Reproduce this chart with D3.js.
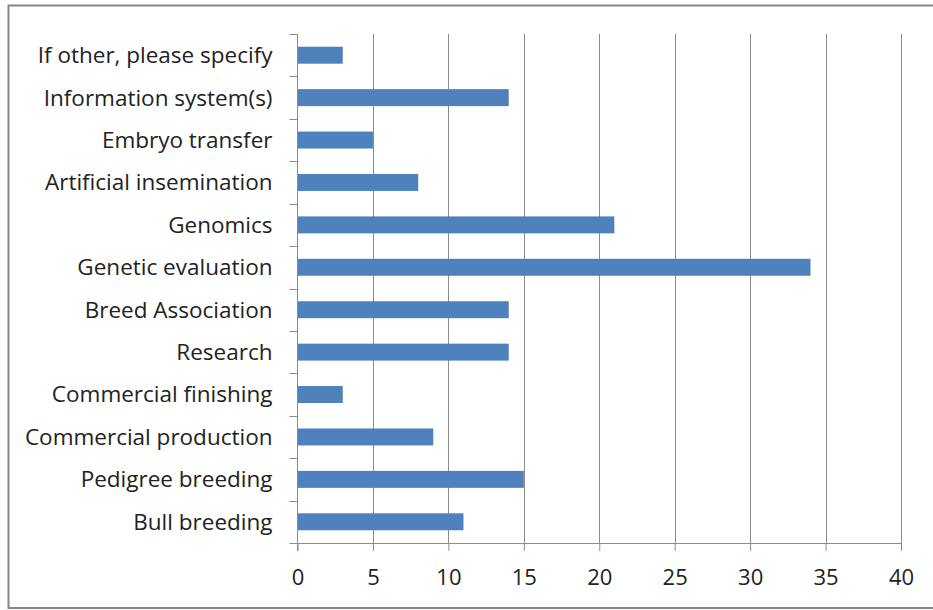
<!DOCTYPE html>
<html><head><meta charset="utf-8">
<script src="https://cdn.jsdelivr.net/npm/d3@7"></script>
<style>body{margin:0;background:#fff}svg{display:block}</style>
</head><body>
<script>
const categories = ["If other, please specify","Information system(s)","Embryo transfer","Artificial insemination","Genomics","Genetic evaluation","Breed Association","Research","Commercial finishing","Commercial production","Pedigree breeding","Bull breeding"];
const values = [3,14,5,8,21,34,14,14,3,9,15,11];
const xTicks = [0,5,10,15,20,25,30,35,40];

(function(){
const W=933,H=610;
const svg=d3.select("body").append("svg").attr("width",W).attr("height",H);
svg.append("rect").attr("x",8.5).attr("y",5.5).attr("width",940).attr("height",602.5).attr("fill","#fff").attr("stroke","#868686").attr("stroke-width",2);

const pL=297.5,pR=901,pT=34,pB=543;
const x=d3.scaleLinear().domain([0,40]).range([pL,pR]);
const y=d3.scaleBand().domain(categories).range([pT,pB]).paddingInner(0.6).paddingOuter(0.3);
const font="'Open Sans', 'Liberation Sans', sans-serif";

svg.append("g").selectAll("line").data(xTicks.slice(1)).join("line")
  .attr("x1",d=>Math.round(x(d))+0.5).attr("x2",d=>Math.round(x(d))+0.5)
  .attr("y1",pT).attr("y2",pB).attr("stroke","#8c8c8c").attr("stroke-width",1);

svg.append("g").selectAll("rect").data(values).join("rect")
  .attr("x",x(0)).attr("y",(d,i)=>y(categories[i])).attr("height",y.bandwidth())
  .attr("width",d=>x(d)-x(0)).attr("fill","#4F81BD");

const xa=svg.append("g").attr("transform",`translate(0,${pB})`)
  .call(d3.axisBottom(x).tickValues(xTicks).tickSize(8).tickPadding(18));
xa.select(".domain").attr("stroke","#8c8c8c").attr("d",`M${pL},0.5H${pR}`);
xa.selectAll(".tick line").attr("stroke","#8c8c8c");
xa.selectAll("text").attr("font-family",font).attr("font-size",22).attr("fill","#222");

const step=(pB-pT)/categories.length;
const ya=svg.append("g");
ya.append("line").attr("x1",pL).attr("x2",pL).attr("y1",pT).attr("y2",pB+8).attr("stroke","#8c8c8c");
ya.selectAll(".yt").data(d3.range(categories.length+1)).join("line").attr("class","yt")
  .attr("x1",pL-8).attr("x2",pL).attr("y1",i=>Math.round(pT+i*step)+0.5).attr("y2",i=>Math.round(pT+i*step)+0.5).attr("stroke","#8c8c8c");
ya.selectAll(".yl").data(categories).join("text").attr("class","yl")
  .attr("x",pL-25).attr("y",d=>y(d)+y.bandwidth()/2).attr("dy","0.35em")
  .attr("text-anchor","end").attr("font-family",font).attr("font-size",22.5).attr("fill","#222")
  .text(d=>d);
})();
</script>
</body></html>
